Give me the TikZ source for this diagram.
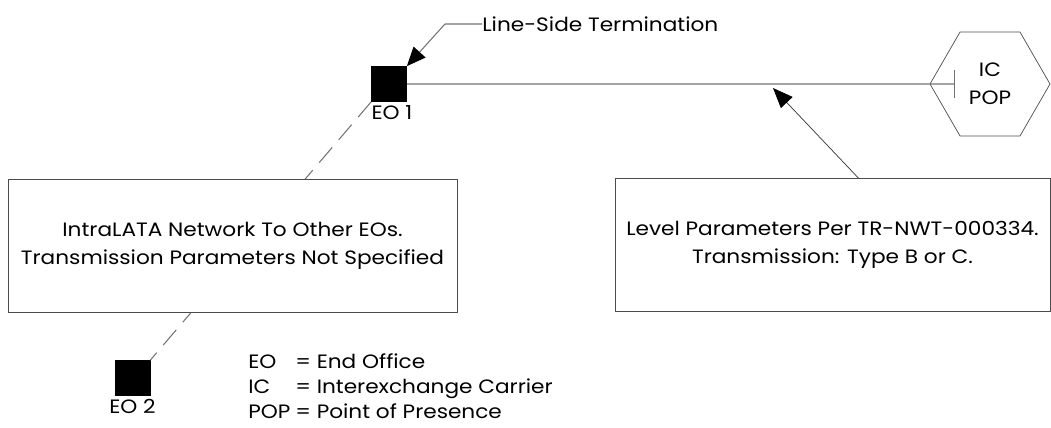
\documentclass[tikz,border=0pt]{standalone}
\usepackage{fontspec}
\setmainfont{Poppins}[FakeStretch=1.12]
\usetikzlibrary{arrows.meta, positioning, shapes.geometric}

\begin{document}
\begin{tikzpicture}[x=0.02cm, y=-0.02cm,
    every node/.style={align=center, font=\fontsize{11}{16}\selectfont},
    office/.style={rectangle, fill=black, draw=black, minimum size=7mm, inner sep=0pt},
    infobox/.style={rectangle, draw=black!70, fill=white, minimum height=2.66cm},
    wire/.style={draw=black!55, line width=0.6pt}]
    \useasboundingbox (0,0) rectangle (1051,427);

    \node[office] (eo1) at (389,84) {};
    \node[below right=2pt and 0pt of eo1.south west, inner sep=0pt] (eo1lbl) {EO 1};
    \node[office] (eo2) at (132.5,378) {};
    \node[below=2pt of eo2, inner sep=0pt] (eo2lbl) {EO 2};
    \node[regular polygon, regular polygon sides=6, draw=black!70,
        minimum size=2.4cm, inner sep=0pt] (pop) at (990,84) {IC\\POP};
    \node[anchor=west, inner sep=0pt] (lst) at (482,24) {Line-Side Termination};
    \coordinate (tap) at (773,88);

    % intraLATA link, hidden behind the box
    \draw[wire, dash pattern=on 4mm off 2mm] (eo1.south west) -- (eo2.north east);

    \node[infobox, minimum width=8.98cm] (intra) at (232.5,245.5)
        {IntraLATA Network To Other EOs.\\ Transmission Parameters Not Specified};
    \node[infobox, minimum width=8.7cm] (level) at (832.5,245)
        {Level Parameters Per TR-NWT-000334.\\ Transmission: Type B or C.};

    \draw[wire, -{Bar[width=5.6mm]}] (eo1.east) -- ([xshift=5mm]pop.west);
    \draw[wire, -{Triangle[length=3.8mm, width=3.2mm, color=black]}] (lst.west)
        -- ++(-37,0) -- (eo1.north east);
    \draw[black!80, -{Triangle[length=4mm, width=3.2mm, color=black]}]
        ([xshift=5.2mm]level.north) -- (tap);

    \node[anchor=north west, inner sep=0pt, align=left,
        font=\fontsize{11}{14.2}\selectfont] (legend) at (248,353)
        {\makebox[9.4mm][l]{EO}= End Office\\
         \makebox[9.4mm][l]{IC}= Interexchange Carrier\\
         \makebox[9.4mm][l]{POP}= Point of Presence};
\end{tikzpicture}
\end{document}
